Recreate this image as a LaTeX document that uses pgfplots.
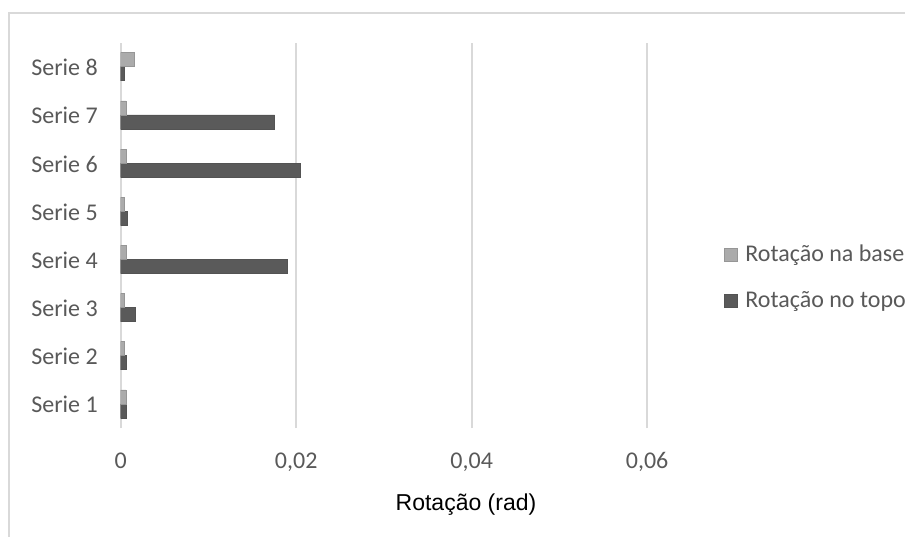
\documentclass[border=0pt]{standalone}
\usepackage{fontspec}
\setmainfont{Carlito}
\newfontfamily\arialfont{Liberation Sans}
\usepackage{pgfplots}
\pgfplotsset{compat=1.18}
\definecolor{gridc}{HTML}{D9D9D9}
\definecolor{txt}{HTML}{595959}
\definecolor{basec}{HTML}{ABABAB}
\definecolor{topoc}{HTML}{5A5A5A}
\begin{document}
\begin{tikzpicture}
\useasboundingbox (0,0) rectangle (452.5pt,268pt);
\draw[gridc, line width=1pt] (4.25pt,-10pt) -- (4.25pt,261.5pt) -- (470pt,261.5pt);
\begin{axis}[
  at={(60.35pt,54pt)}, anchor=south west,
  scale only axis, width=307.1pt, height=192.65pt,
  xbar,
  xmin=0, xmax=0.07, ymin=0.5, ymax=8.5,
  xtick={0,0.02,0.04,0.06}, ytick={1,2,3,4,5,6,7,8},
  yticklabels={Serie 1,Serie 2,Serie 3,Serie 4,Serie 5,Serie 6,Serie 7,Serie 8},
  axis line style={draw=none}, major tick length=0pt,
  xmajorgrids, major grid style={gridc, line width=1pt},
  /pgf/number format/.cd, use comma, fixed, precision=2, assume math mode=true, /pgfplots/.cd,
  scaled x ticks=false,
  ticklabel style={font=\fontsize{12}{14}\selectfont, text=txt},
  yticklabel style={anchor=base east, inner sep=0pt, xshift=-11.3pt, yshift=-4.5pt},
  xticklabel style={anchor=base, inner sep=0pt, yshift=-20pt},
  xlabel={Rotação (rad)},
  xlabel style={at={(axis description cs:0.5622,0)}, anchor=base, yshift=-41pt, inner sep=0pt, font=\arialfont\fontsize{11.5}{13}\selectfont, text=black},
  legend style={at={(0.9823,0.3893)}, anchor=west, draw=none, fill=none, inner sep=0pt, row sep=13.5pt, column sep=3.6pt, font=\fontsize{12}{14}\selectfont, text=txt, nodes={inner sep=0pt}, cells={anchor=west}},
  legend cell align=left,
  reverse legend,
]
\addplot[bar width=7pt, bar shift=-3.5pt, fill=topoc, draw=topoc!92!black, line width=0.4pt,
  legend image code/.code={\draw[fill=topoc, draw=topoc!92!black, line width=0.4pt] (0pt,-3.25pt) rectangle (6.5pt,3.25pt);}]
  coordinates {(0.0006,1) (0.0006,2) (0.00166,3) (0.0190,4) (0.00075,5) (0.02047,6) (0.01755,7) (0.0004,8)};
\addlegendentry{Rotação no topo}
\addplot[bar width=7pt, bar shift=3.5pt, fill=basec, draw=basec!88!black, line width=0.4pt,
  legend image code/.code={\draw[fill=basec, draw=basec!88!black, line width=0.4pt] (0pt,-3.25pt) rectangle (6.5pt,3.25pt);}]
  coordinates {(0.0006,1) (0.0004,2) (0.0004,3) (0.0006,4) (0.0004,5) (0.0006,6) (0.0006,7) (0.0016,8)};
\addlegendentry{Rotação na base}
\end{axis}
\end{tikzpicture}
\end{document}
